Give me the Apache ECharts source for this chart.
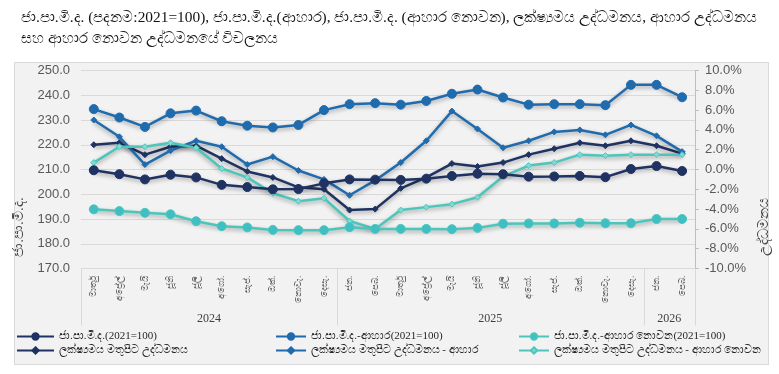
<!DOCTYPE html>
<html><head><meta charset="utf-8">
<script src="https://cdn.jsdelivr.net/npm/echarts@6/dist/echarts.min.js"></script>
<style>
html,body{margin:0;padding:0;background:#fff;}
#wrap{position:relative;width:779px;height:374px;}
#panel{position:absolute;left:14px;top:62px;width:753px;height:301px;background:#f2f2f2;border:1px solid #d9d9d9;}
#main{position:absolute;left:0;top:0;width:779px;height:374px;}
</style></head>
<body><div id="wrap"><div id="panel"></div><div id="main"></div></div>
<script>
var titleLines = ['ජා.පා.මි.ද. (පදනම:2021=100), ජා.පා.මි.ද.(ආහාර), ජා.පා.මි.ද. (ආහාර නොවන), ලක්ෂ්‍යමය උද්ධමනය, ආහාර උද්ධමනය', 'සහ ආහාර නොවන උද්ධමනයේ විචලනය'];
var months = ['මාර්තු','අප්‍රේල්','මැයි','ජූනි','ජූලි','අගෝ.','සැප්.','ඔක්.','නොවැ.','දෙසැ.','ජන.','පෙබ.','මාර්තු','අප්‍රේල්','මැයි','ජූනි','ජූලි','අගෝ.','සැප්.','ඔක්.','නොවැ.','දෙසැ.','ජන.','පෙබ.'];
var years = ['2024','2025','2026'];
var yearSpans = [10,12,2];
var seriesNames = ['ජා.පා.මි.ද.(2021=100)','ජා.පා.මි.ද.-ආහාර(2021=100)','ජා.පා.මි.ද.-ආහාර නොවන(2021=100)','ලක්ෂ්‍යමය මතුපිට උද්ධමනය','ලක්ෂ්‍යමය මතුපිට උද්ධමනය - ආහාර','ලක්ෂ්‍යමය මතුපිට උද්ධමනය - ආහාර නොවන'];
var cpi = [209.7,208.1,206.0,207.9,206.8,203.8,202.9,202.0,202.1,204.4,206.0,205.9,205.8,206.3,207.4,208.3,208.1,207.1,207.2,207.4,206.9,210.2,211.4,209.4];
var cpiFood = [234.4,231.0,227.2,232.7,233.8,229.5,227.7,227.0,228.0,234.0,236.4,236.8,236.2,237.7,240.6,242.3,239.1,236.2,236.4,236.4,236.0,244.2,244.2,239.2];
var cpiNonFood = [193.9,193.2,192.5,191.9,189.1,187.1,186.6,185.6,185.5,185.5,186.7,186.0,186.0,186.0,185.9,186.4,188.1,188.2,188.2,188.5,188.3,188.3,190.0,190.0];
var infl = [2.5,2.7,1.5,2.3,2.4,1.1,-0.2,-0.8,-1.8,-2.0,-4.1,-4.0,-1.9,-0.8,0.6,0.3,0.7,1.5,2.1,2.7,2.4,2.9,2.4,1.6];
var inflFood = [5.0,3.3,0.5,1.9,2.9,2.3,0.5,1.3,-0.1,-1.0,-2.6,-1.1,0.7,2.9,5.9,4.1,2.2,2.9,3.8,4.0,3.5,4.5,3.4,1.8];
var inflNonFood = [0.7,2.3,2.3,2.7,2.2,0.1,-0.8,-2.4,-3.2,-2.9,-5.2,-6.0,-4.1,-3.8,-3.5,-2.8,-0.7,0.4,0.7,1.5,1.4,1.5,1.5,1.5];
var leftTicks = {min:170, max:250, interval:10};
var rightTicks = {min:-10, max:10, interval:2};

var NAVY='#1f3261', BLUE='#1f6bad', TEAL='#4cc6bb';
var bounds=[0], yearMid=[], acc=0;
yearSpans.forEach(function(s){ yearMid.push(acc+s/2); acc+=s; bounds.push(acc); });

var chart = echarts.init(document.getElementById('main'), null, {renderer:'canvas'});
var shadow = {shadowColor:'rgba(0,0,0,0.35)', shadowBlur:4, shadowOffsetY:2};
function mk(name, data, color, yi, sym, size, fill){
  return {name:name, type:'line', data:data, yAxisIndex:yi, xAxisIndex:0, symbol:sym, symbolSize:size, showSymbol:true,
    lineStyle:Object.assign({color:color, width:2.5}, shadow),
    itemStyle:{color:fill||color, borderColor:color, borderWidth:1}, emphasis:{disabled:true}, z: yi===0?3:2};
}
var legText = {fontFamily:'Liberation Serif, serif', fontSize:11, color:'#262626'};
function leg(idx, left, w){
  return {data:[seriesNames[idx], seriesNames[idx+3]], orient:'vertical', left:left, top:331, itemGap:3, itemWidth:w, itemHeight:8, textStyle:legText, selectedMode:false, padding:0};
}
chart.setOption({
  animation:false,
  title:{text:titleLines.join('\n'), left:16, top:2, textStyle:{fontFamily:'Liberation Serif, serif', fontSize:15.4, fontWeight:'normal', color:'#111', lineHeight:21}},
  legend:[leg(0,16,37), leg(1,275,30), leg(2,518,30)],
  grid:{left:81, right:77, top:70.5, bottom:105.5, containLabel:false},
  xAxis:[
    {type:'category', data:months, boundaryGap:true, position:'bottom',
     axisLine:{show:true, lineStyle:{color:'#d9d9d9'}}, axisTick:{show:false},
     axisLabel:{rotate:90, interval:0, margin:7, fontSize:9, color:'#666', fontFamily:'Noto Sans, sans-serif'}},
    {type:'value', min:0, max:months.length, position:'bottom', gridIndex:0,
     axisLine:{show:false}, splitLine:{show:false},
     axisTick:{show:true, customValues:bounds, length:57, inside:false, lineStyle:{color:'#d9d9d9'}},
     axisLabel:{customValues:yearMid, margin:44, fontFamily:'Liberation Serif, serif', fontSize:12, color:'#404040',
       formatter:function(v){ var i=yearMid.indexOf(v); return i>=0?years[i]:''; }}}
  ],
  yAxis:[
    {type:'value', min:leftTicks.min, max:leftTicks.max, interval:leftTicks.interval, position:'left',
     axisLine:{show:false}, axisTick:{show:false},
     splitLine:{show:true, lineStyle:{color:'#d9d9d9', width:1}},
     axisLabel:{formatter:function(v){return v.toFixed(1);}, fontFamily:'Liberation Sans, sans-serif', fontSize:13, color:'#595959', margin:11},
     name:'ජා.පා.මි.ද.', nameLocation:'middle', nameRotate:90, nameGap:33,
     nameTextStyle:{fontSize:14, color:'#404040', padding:[0,115,0,0]}},
    {type:'value', min:rightTicks.min, max:rightTicks.max, interval:rightTicks.interval, position:'right',
     axisLine:{show:true, lineStyle:{color:'#bfbfbf'}}, axisTick:{show:true, length:4, lineStyle:{color:'#bfbfbf'}},
     splitLine:{show:false},
     axisLabel:{formatter:function(v){return v.toFixed(1)+'%';}, fontFamily:'Liberation Sans, sans-serif', fontSize:13, color:'#595959', margin:10},
     name:'උද්ධමනය', nameLocation:'middle', nameRotate:90, nameGap:61,
     nameTextStyle:{fontSize:14, color:'#404040', padding:[0,115,0,0]}}
  ],
  series:[
    mk(seriesNames[0], cpi, NAVY, 0, 'circle', 9),
    mk(seriesNames[1], cpiFood, BLUE, 0, 'circle', 9),
    mk(seriesNames[2], cpiNonFood, TEAL, 0, 'circle', 9, '#3fbfc4'),
    mk(seriesNames[3], infl, NAVY, 1, 'diamond', 6),
    mk(seriesNames[4], inflFood, BLUE, 1, 'diamond', 6),
    mk(seriesNames[5], inflNonFood, TEAL, 1, 'diamond', 6, '#7fd9d4')
  ]
});
</script></body></html>
